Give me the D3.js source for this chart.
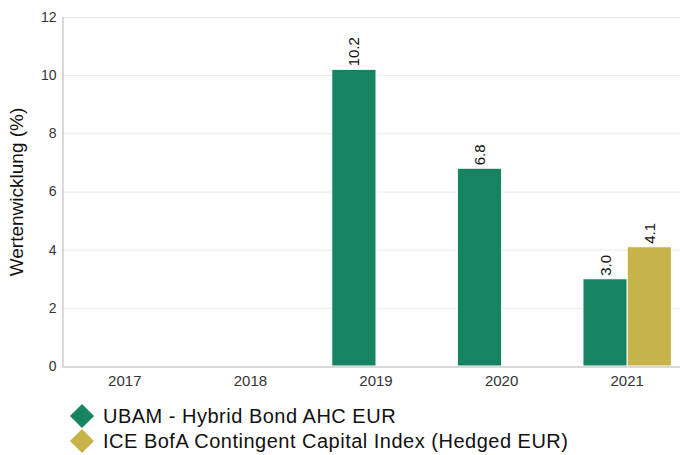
<!DOCTYPE html>
<html><head><meta charset="utf-8">
<script src="https://cdn.jsdelivr.net/npm/d3@7"></script>
<style>body{margin:0;background:#fff;font-family:"Liberation Sans",Arial,sans-serif;}svg{display:block}</style>
</head><body><svg id="c" width="680" height="455"></svg>
<script>
const categories = ["2017","2018","2019","2020","2021"];
const seriesNames = ["UBAM - Hybrid Bond AHC EUR","ICE BofA Contingent Capital Index (Hedged EUR)"];
const fundValues = [null, null, 10.2, 6.8, 3.0];
const indexValues = [null, null, null, null, 4.1];
const colors = ["#168463", "#c6b44a"];
const yTicks = [0,2,4,6,8,10,12];

const svg = d3.select("#c");
const m = {left:62, top:17, right:690, bottom:366};
const x = d3.scaleBand().domain(categories).range([m.left, m.right]).paddingInner(0).paddingOuter(0);
const xs = d3.scaleBand().domain([0,1]).range([0, x.bandwidth()]).paddingInner(0).paddingOuter(0.42);
const y = d3.scaleLinear().domain([0,12]).range([m.bottom, m.top]);

// gridlines
svg.append("g").selectAll("line").data(yTicks.filter(d=>d>0)).join("line")
  .attr("x1", m.left).attr("x2", 680).attr("y1", d=>y(d)+0.5).attr("y2", d=>y(d)+0.5)
  .attr("stroke", "#e8e8e8").attr("stroke-width", 1);

// y axis
const ya = svg.append("g").attr("transform", `translate(${m.left+0.5},0)`)
  .call(d3.axisLeft(y).tickValues(yTicks).tickSize(0).tickPadding(6).tickFormat(d3.format("d")));
ya.select(".domain").attr("stroke", "#b3b3b3");
ya.selectAll("text").attr("font-size", 14).attr("fill", "#333").attr("font-family", "Liberation Sans, Arial, sans-serif");

// bars
const data = [];
categories.forEach((c,i)=>{
  [fundValues[i], indexValues[i]].forEach((v,s)=>{ if(v!=null) data.push({c, s, v}); });
});
const g = svg.append("g");
g.selectAll("rect").data(data).join("rect")
  .attr("x", d=>x(d.c)+xs(d.s)).attr("width", xs.bandwidth())
  .attr("y", d=>y(d.v)).attr("height", d=>y(0)-y(d.v))
  .attr("fill", d=>colors[d.s]).attr("stroke", "#fff").attr("stroke-width", 1);
g.selectAll("text").data(data).join("text")
  .attr("transform", d=>`translate(${x(d.c)+xs(d.s)+xs.bandwidth()/2+5.5},${y(d.v)-3}) rotate(-90)`)
  .attr("text-anchor", "start").attr("font-size", 15).attr("fill", "#111")
  .text(d=>d3.format(".1f")(d.v));

// x axis
const xa = svg.append("g").attr("transform", `translate(0,${m.bottom+0.5})`)
  .call(d3.axisBottom(x).tickSize(0).tickPadding(9));
xa.select(".domain").attr("stroke", "#b3b3b3");
xa.selectAll("text").attr("font-size", 15).attr("fill", "#333").attr("font-family", "Liberation Sans, Arial, sans-serif");

// y title
svg.append("text").attr("transform", "translate(23,192) rotate(-90)")
  .attr("text-anchor", "middle").attr("font-size", 19).attr("fill", "#111")
  .text("Wertenwicklung (%)");

// legend
const lg = svg.append("g");
seriesNames.forEach((n,i)=>{
  const yy = 416 + i*25;
  lg.append("path").attr("d", d3.symbol(d3.symbolSquare, 290)())
    .attr("transform", `translate(82,${yy}) rotate(45)`).attr("fill", colors[i]);
  lg.append("text").attr("x", 103).attr("y", yy+7).attr("font-size", 20)
    .attr("letter-spacing", 0.5).attr("fill", "#111").text(n);
});
</script></body></html>
